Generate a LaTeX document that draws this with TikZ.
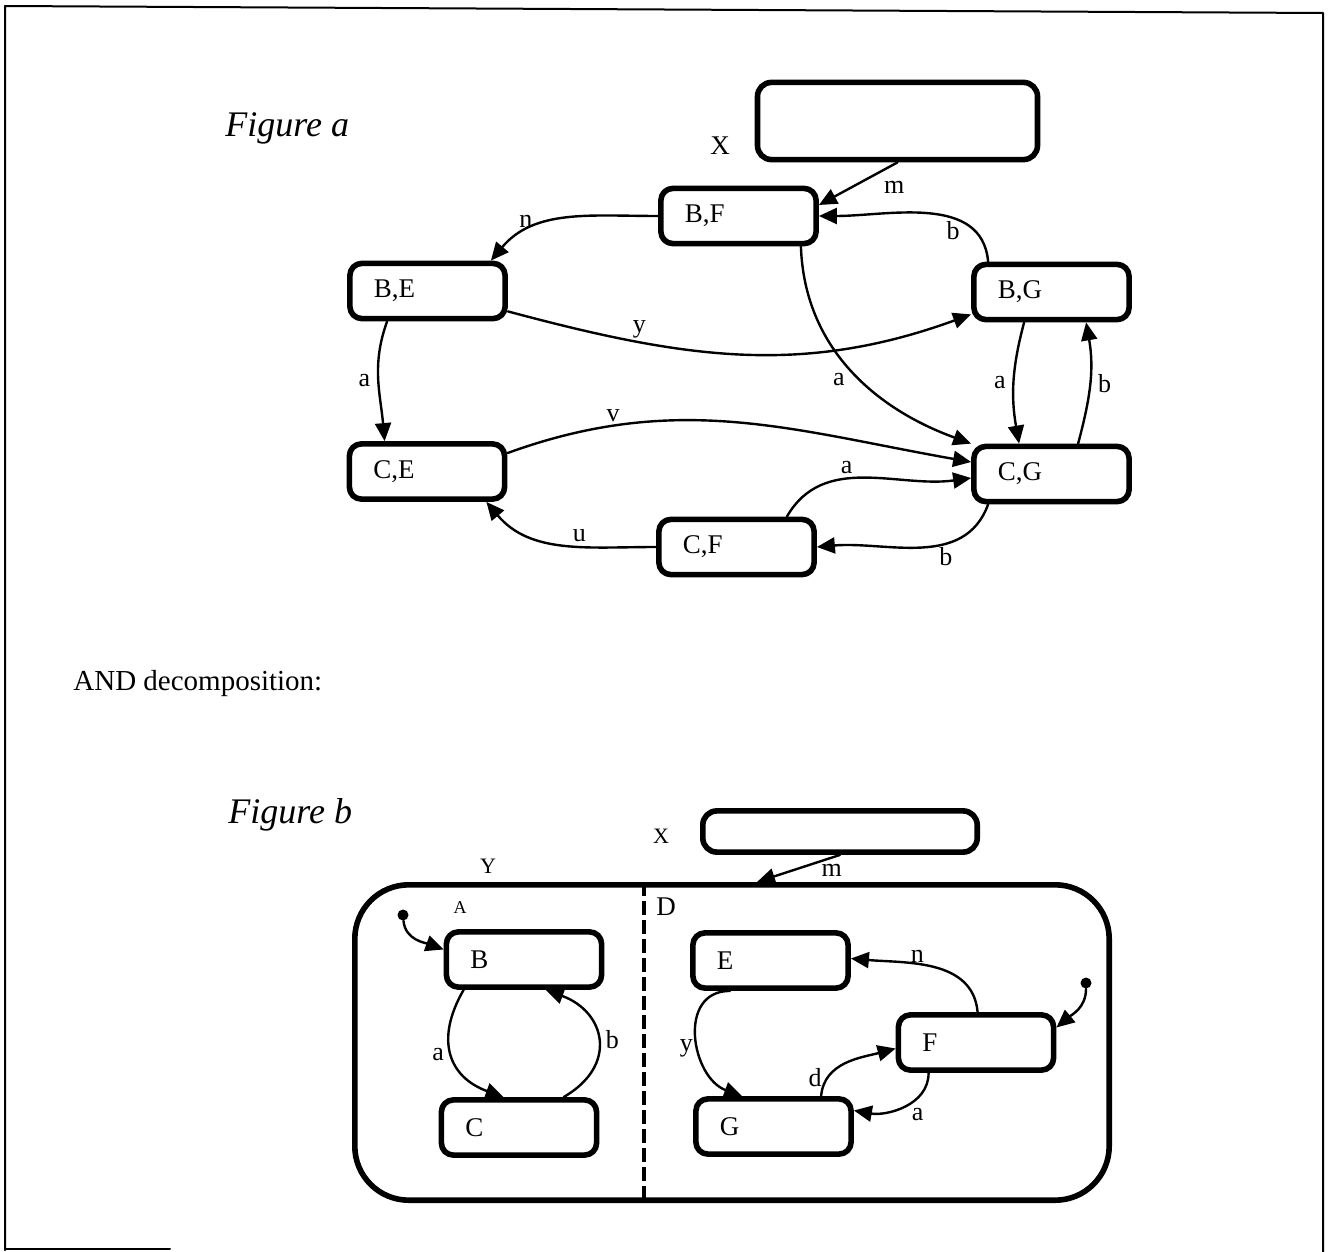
\documentclass[tikz,border=0pt]{standalone}
\usepackage{fontspec}
\setmainfont{Liberation Serif}
\usepackage{tikz}
\usetikzlibrary{arrows.meta,positioning}
\tikzset{
    every picture/.style={line cap=round,line join=round},
    statebox/.style={draw,line width=2.8pt,rounded corners=6pt,
      text width=53.6pt,inner xsep=12pt,inner ysep=0pt,minimum height=27.6pt,
      font=\fontsize{13.5}{15}\selectfont,align=left},
    emptybox/.style={draw,line width=2.8pt,rounded corners=7pt,inner sep=0pt},
    trans/.style={-{Triangle[length=9pt,width=8pt]},line width=1.2pt},
    trlabel/.style={font=\fontsize{13}{14}\selectfont,inner sep=1.5pt},
    initdot/.style={circle,fill,inner sep=0pt,minimum size=5.5pt},
    figtitle/.style={font=\fontsize{18}{21}\selectfont\itshape,anchor=base west,inner sep=0pt}
}
\begin{document}
\begin{tikzpicture}[x=0.5pt,y=0.5pt]
  \useasboundingbox (0,0) rectangle (1328,-1252);
  % page frame
  \draw[line width=1pt] (5,-1250) -- (5,-6) -- (1323,-13) -- (1323,-1252);
  \draw[line width=1pt] (5,-1249) -- (170,-1249);

  % Figure a
  \node[figtitle] (figa) at (225,-137) {Figure a};
  \node[emptybox,minimum width=140pt,minimum height=38.6pt] (topx) at (897.5,-121) {};
  \node[font=\fontsize{13.5}{15}\selectfont] (xa) at (720,-146) {X};
  \node[statebox] (bf) at (738.5,-216) {B,F};
  \node[statebox] (be) at (427.5,-291) {B,E};
  \node[statebox] (bg) at (1051.5,-292) {B,G};
  \node[statebox] (ce) at (427,-471.5) {C,E};
  \node[statebox] (cg) at (1051.5,-474) {C,G};
  \node[statebox] (cf) at (736.5,-547) {C,F};

  \draw[trans] (topx.south) -- ([yshift=5.5pt]bf.east)
    node[trlabel,pos=0.3,below right=1pt and 3pt] {m};
  \draw[trans] (bf.west) to[out=180,in=50]
    node[trlabel,pos=0.75,above] {n} ([xshift=-8.5pt]be.north east);
  \draw[trans] ([xshift=8.5pt]bg.north west) to[out=95,in=0]
    node[trlabel,pos=0.3,below left=-2pt and -1pt] {b} (bf.east);
  \draw[trans] ([yshift=5pt]be.south east) to[out=-15,in=200]
    node[trlabel,pos=0.27,above] {y} ([yshift=4pt]bg.south west);
  \draw[trans] ([xshift=-9pt]bf.south east) to[out=-88,in=160]
    node[trlabel,pos=0.55,left=6pt] {a} (cg.north west);
  \draw[trans] ([xshift=20pt]be.south west) to[out=-110,in=95]
    node[trlabel,left=2pt] {a} ([xshift=19pt]ce.north west);
  \draw[trans] ([xshift=26.5pt]bg.south west) to[out=-105,in=100]
    node[trlabel,left=2pt] {a} ([xshift=24pt]cg.north west);
  \draw[trans] ([xshift=53.5pt]cg.north west) to[out=75,in=-80]
    node[trlabel,right=2pt] {b} ([xshift=57.5pt]bg.south west);
  \draw[trans] ([yshift=-6pt]ce.north east) to[out=20,in=170]
    node[trlabel,pos=0.22,above] {v} ([yshift=6pt]cg.west);
  \draw[trans] ([xshift=-15pt]cf.north east) to[out=60,in=188]
    node[trlabel,pos=0.4,above] {a} ([yshift=-2pt]cg.west);
  \draw[trans] ([xshift=8.5pt]cg.south west) to[out=-110,in=5]
    node[trlabel,pos=0.35,below] {b} (cf.east);
  \draw[trans] (cf.west) to[out=180,in=-50]
    node[trlabel,pos=0.4,above] {u} ([xshift=-10.5pt]ce.south east);

  % AND decomposition
  \node[font=\fontsize{14.5}{17}\selectfont,anchor=base west,inner sep=0pt] (andlab)
    at (73,-690) {AND decomposition:};

  % Figure b
  \node[figtitle] (figb) at (228,-823) {Figure b};
  \node[emptybox,minimum width=137.2pt,minimum height=20.6pt] (topx2) at (840,-831.5) {};
  \node[font=\fontsize{11}{12}\selectfont] (xb) at (661,-836) {X};
  \node[draw,line width=2.8pt,rounded corners=27pt,minimum width=377.2pt,
        minimum height=157.7pt] (yst) at (732,-1042.5) {};
  \node[font=\fontsize{11}{12}\selectfont] (ylab) at (488,-866) {Y};
  \node[font=\fontsize{9}{10}\selectfont] (alab) at (460,-908) {A};
  \node[font=\fontsize{13.5}{15}\selectfont] (dlab) at (666,-907) {D};
  \draw[line width=1.8pt,dash pattern=on 7pt off 2.5pt,line cap=butt]
    ([xshift=-44pt]yst.north) -- ([xshift=-44pt]yst.south);

  \draw[trans] (topx2.south) -- ([xshift=12.5pt]yst.north)
    node[trlabel,pos=0.1,below=1pt] {m};

  \node[statebox] (B) at (524,-959.5) {B};
  \node[statebox] (C) at (519,-1127.5) {C};
  \node[statebox] (E) at (770.5,-960.5) {E};
  \node[statebox] (G) at (773.5,-1126.5) {G};
  \node[statebox] (F) at (976,-1042.5) {F};

  \node[initdot] (i1) at (403,-915) {};
  \draw[trans] (i1) to[out=-85,in=160] ([yshift=5pt]B.west);
  \node[initdot] (i2) at (1086,-983) {};
  \draw[trans] (i2) to[out=-90,in=40] ([yshift=7.5pt]F.east);

  \draw[trans] ([xshift=10pt]B.south west) to[out=-120,in=160,looseness=1.3]
    node[trlabel,left=2pt] {a} ([xshift=32.5pt]C.north west);
  \draw[trans] ([xshift=62.5pt]C.north west) to[out=30,in=-20,looseness=1.5]
    node[trlabel,right=2pt] {b} ([xshift=51pt]B.south west);
  \draw[trans] ([xshift=20pt]E.south west) to[out=180,in=160,looseness=1.3]
    node[trlabel,left,yshift=-6pt] {y} ([xshift=24.5pt]G.north west);
  \draw[trans] ([xshift=41pt]F.north west) to[out=95,in=-5]
    node[trlabel,pos=0.6,yshift=4pt] {n} ([yshift=1pt]E.east);
  \draw[trans] ([xshift=64pt]G.north west) to[out=85,in=195]
    node[trlabel,pos=0.22,left=1pt] {d} ([yshift=-3pt]F.west);
  \draw[trans] ([xshift=16.5pt]F.south west) to[out=-90,in=-10]
    node[trlabel,pos=0.45,below right] {a} ([yshift=8pt]G.east);
\end{tikzpicture}
\end{document}
